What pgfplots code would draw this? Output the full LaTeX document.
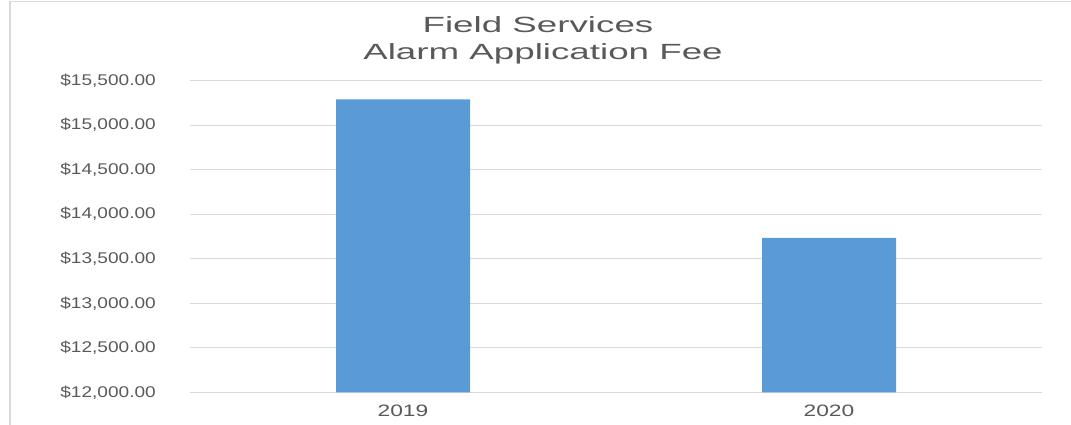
\documentclass[border=0pt]{standalone}
\usepackage{pgfplots}
\pgfplotsset{compat=1.18}
\usepackage{fontspec}
\setmainfont{Liberation Sans}
\newfontfamily\ytickfont[FakeStretch=1.23]{Liberation Sans}
\newfontfamily\xtickfont[FakeStretch=1.38]{Liberation Sans}
\newfontfamily\titlefont[FakeStretch=1.67]{Liberation Sans}
\definecolor{barblue}{HTML}{5B9BD5}
\definecolor{txtgray}{HTML}{595959}
\definecolor{gridgray}{HTML}{D9D9D9}
\begin{document}
\begin{tikzpicture}
\useasboundingbox (0pt,0pt) rectangle (1071pt,425pt);
\draw[gridgray, line width=1.2pt] (10pt,0pt) -- (10pt,423.5pt) -- (1071pt,423.5pt);
\node[anchor=base, inner sep=0pt, text=txtgray, font=\titlefont\fontsize{22}{26}\selectfont] at (538pt,392pt) {Field Services};
\node[anchor=base, inner sep=0pt, text=txtgray, font=\titlefont\fontsize{22}{26}\selectfont] at (543pt,365pt) {Alarm Application Fee};
\begin{axis}[
  at={(190pt,32.7pt)}, anchor=south west,
  scale only axis, width=852pt, height=311.6pt,
  xmin=-0.5, xmax=1.5, ymin=12000, ymax=15500,
  axis line style={draw=none},
  scaled y ticks=false,
  ymajorgrids, grid style={gridgray, line width=0.9pt},
  ytick={12000,12500,13000,13500,14000,14500,15000,15500},
  yticklabels={{\$12,000.00},{\$12,500.00},{\$13,000.00},{\$13,500.00},{\$14,000.00},{\$14,500.00},{\$15,000.00},{\$15,500.00}},
  xtick=data, xticklabels={2019,2020},
  major tick length=0pt,
  /pgf/number format/assume math mode=true,
  yticklabel style={anchor=east, inner sep=0pt, xshift=-34pt, text=txtgray, font=\ytickfont\fontsize{15.5}{18}\selectfont},
  xticklabel style={anchor=north, inner sep=0pt, yshift=-12pt, text=txtgray, font=\xtickfont\fontsize{16.5}{19}\selectfont},
  clip=false,
]
\addplot[ybar, bar width=134pt, fill=barblue, draw=none, bar shift=0pt] coordinates {(0,15290) (1,13735)};
\end{axis}
\end{tikzpicture}
\end{document}
